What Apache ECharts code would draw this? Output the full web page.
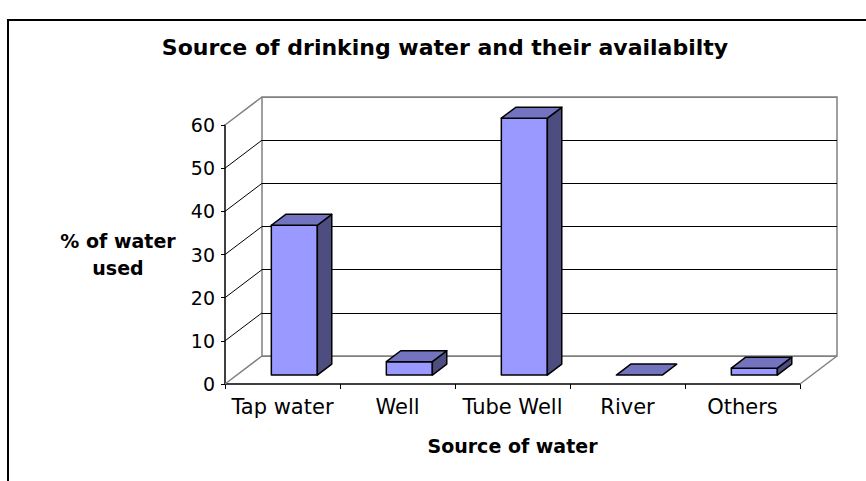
<!DOCTYPE html>
<html>
<head>
<meta charset="utf-8">
<script src="https://cdn.jsdelivr.net/npm/echarts@6/dist/echarts.min.js"></script>
<style>
  html, body { margin: 0; padding: 0; background: #fff; }
  #chart { width: 866px; height: 481px; }
</style>
</head>
<body>
<div id="chart"></div>
<script>
// Source of drinking water (share of households, %)
const categories = ['Tap water', 'Well', 'Tube Well', 'River', 'Others'];
const percentUsed = [34.7, 3.1, 59.5, 0, 1.6];
const yTicks = [0, 10, 20, 30, 40, 50, 60];

const FONT = '"DejaVu Sans", "Liberation Sans", Arial, sans-serif';

// Perspective offset between the front plane and the back wall
const DEPTH = { dx: 37, dy: 28 };
// Bars sit mid-depth: front face 0.32 of the way back, 0.39 deep
const BAR_FRONT = 0.32;
const BAR_DEPTH = 0.39;
const BAR_WIDTH = 0.4;

const EDGE_GRAY = '#808080';

function renderBar(params, api) {
  const i = api.value(0);
  const v = api.value(1);
  const top = api.coord([i, v]);
  const base = api.coord([i, 0]);
  const band = api.size([1, 0])[0];
  const w = band * BAR_WIDTH;
  const fx = DEPTH.dx * BAR_FRONT, fy = DEPTH.dy * BAR_FRONT;
  const ddx = DEPTH.dx * BAR_DEPTH, ddy = DEPTH.dy * BAR_DEPTH;
  const x0 = top[0] - w / 2 + fx, x1 = x0 + w;
  const yT = top[1] - fy, yB = base[1] - fy;
  const stroke = { stroke: '#000', lineWidth: 1.5, lineJoin: 'round' };
  const children = [];
  if (yB - yT > 0.5) {
    children.push({ type: 'polygon', shape: { points: [[x0, yT], [x1, yT], [x1, yB], [x0, yB]] },
      style: Object.assign({ fill: '#9999FF' }, stroke) });
    children.push({ type: 'polygon', shape: { points: [[x1, yT], [x1 + ddx, yT - ddy], [x1 + ddx, yB - ddy], [x1, yB]] },
      style: Object.assign({ fill: '#4D4D80' }, stroke) });
  }
  children.push({ type: 'polygon', shape: { points: [[x0, yT], [x1, yT], [x1 + ddx, yT - ddy], [x0 + ddx, yT - ddy]] },
    style: Object.assign({ fill: '#7373BF' }, stroke) });
  return { type: 'group', children: children };
}

// Side wall diagonals and the right floor edge
function renderWall(params, api) {
  const v = api.value(1);
  const cs = params.coordSys;
  const y = api.coord([0, v])[1];
  const edge = (v === yTicks[0] || v === yTicks[yTicks.length - 1]);
  const children = [{
    type: 'line',
    shape: { x1: cs.x, y1: y, x2: cs.x + DEPTH.dx, y2: y - DEPTH.dy },
    style: { stroke: edge ? EDGE_GRAY : '#000', lineWidth: edge ? 1.5 : 1 }
  }];
  if (v === yTicks[0]) {
    const xr = cs.x + cs.width;
    children.push({
      type: 'line',
      shape: { x1: xr, y1: y, x2: xr + DEPTH.dx, y2: y - DEPTH.dy },
      style: { stroke: EDGE_GRAY, lineWidth: 1.5 }
    });
  }
  return { type: 'group', children: children };
}

const front = { left: 225, right: 66, top: 125, bottom: 97 };
const back = {
  left: front.left + DEPTH.dx, right: front.right - DEPTH.dx,
  top: front.top - DEPTH.dy, bottom: front.bottom + DEPTH.dy
};

const chart = echarts.init(document.getElementById('chart'), null, { renderer: 'svg' });
chart.setOption({
  animation: false,
  backgroundColor: '#fff',
  graphic: [
    { type: 'rect', shape: { x: 8, y: 20, width: 900, height: 500 },
      style: { fill: 'none', stroke: '#000', lineWidth: 2 }, z: -10 },
    { type: 'text', x: 445, y: 47,
      style: { text: 'Source of drinking water and their availabilty',
        font: 'bold 22px ' + FONT, fill: '#000',
        align: 'center', verticalAlign: 'middle', textAlign: 'center', textVerticalAlign: 'middle' } }
  ],
  grid: [
    Object.assign({ containLabel: false }, front),
    Object.assign({ containLabel: false, show: true, borderColor: EDGE_GRAY, borderWidth: 1.5,
      backgroundColor: 'transparent', z: 0 }, back)
  ],
  xAxis: [
    {
      type: 'category', gridIndex: 0, data: categories,
      axisLine: { lineStyle: { color: '#000', width: 1.5 } },
      axisTick: { show: true, length: 5, lineStyle: { color: '#000' } },
      axisLabel: { color: '#000', fontSize: 21, fontFamily: FONT, margin: 12, interval: 0 },
      name: 'Source of water', nameLocation: 'middle', nameGap: 52,
      nameTextStyle: { color: '#000', fontSize: 19, fontWeight: 'bold', fontFamily: FONT }
    },
    {
      type: 'category', gridIndex: 1, data: categories,
      axisLine: { show: false }, axisTick: { show: false }, axisLabel: { show: false }
    }
  ],
  yAxis: [
    {
      type: 'value', gridIndex: 0, min: 0, max: 60, interval: 10,
      axisLine: { show: true, lineStyle: { color: '#000', width: 1.5 } },
      axisTick: { show: true, length: 4, lineStyle: { color: '#000' } },
      axisLabel: { color: '#000', fontSize: 19, fontFamily: FONT, margin: 10 },
      splitLine: { show: false },
      name: '% of water\nused', nameLocation: 'middle', nameRotate: 0, nameGap: 107,
      nameTextStyle: { color: '#000', fontSize: 19, fontWeight: 'bold', fontFamily: FONT,
        align: 'center', verticalAlign: 'middle', lineHeight: 27 }
    },
    {
      type: 'value', gridIndex: 1, min: 0, max: 60, interval: 10,
      axisLine: { show: false }, axisTick: { show: false }, axisLabel: { show: false },
      splitLine: { show: true, lineStyle: { color: [EDGE_GRAY, '#000', '#000', '#000', '#000', '#000', EDGE_GRAY], width: 1 } }
    }
  ],
  series: [
    {
      type: 'custom', xAxisIndex: 0, yAxisIndex: 0, z: 3,
      renderItem: renderWall,
      data: yTicks.map(function (v) { return [0, v]; }),
      silent: true
    },
    {
      type: 'custom', xAxisIndex: 0, yAxisIndex: 0, z: 5,
      renderItem: renderBar,
      data: categories.map(function (c, i) { return [i, percentUsed[i]]; })
    }
  ]
});
</script>
</body>
</html>
